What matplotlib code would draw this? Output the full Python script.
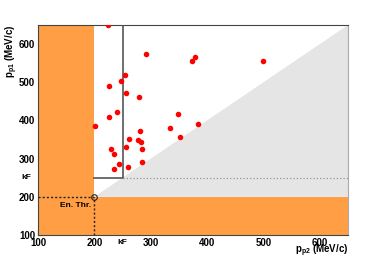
import matplotlib
matplotlib.use("Agg")
import matplotlib.pyplot as plt
from matplotlib.ticker import MultipleLocator

plt.rcParams['font.family'] = ['Liberation Sans', 'DejaVu Sans']

# data
p_p2 = [224, 291, 374, 379, 500, 255, 247, 226, 256, 279,
        240, 226, 202, 349, 384, 335, 352, 281, 262, 277,
        282, 256, 284, 229, 235, 285, 243, 234, 260]
p_p1 = [649, 573, 555, 565, 555, 518, 503, 490, 471, 461,
        421, 408, 386, 416, 392, 379, 357, 373, 351, 348,
        343, 331, 325, 325, 312, 292, 285, 272, 277]
kF = 250
en_thr = 200
xlim = (100, 650)
ylim = (100, 650)
xticks = [100, 200, 300, 400, 500, 600]
yticks = [100, 200, 300, 400, 500, 600]

fig = plt.figure(figsize=(3.86, 2.62), dpi=100)
ax = fig.add_axes([38/386, 1-235/262, 310/386, 210/262])
ax.set_xlim(*xlim)
ax.set_ylim(*ylim)

orange = '#ff9e45'
gray = '#e5e5e5'
# grey region below the diagonal
ax.fill([en_thr, xlim[1], xlim[1]], [en_thr, ylim[1], en_thr], color=gray, lw=0, zorder=1)
# orange threshold regions
ax.fill_between([xlim[0], en_thr], ylim[0], ylim[1], color=orange, lw=0, zorder=2)
ax.fill_between([xlim[0], xlim[1]], ylim[0], en_thr, color=orange, lw=0, zorder=2)

# kF box
ax.plot([en_thr, kF, kF], [kF, kF, ylim[1]], color='#555555', lw=1.2, zorder=3)
ax.plot([kF, xlim[1]], [kF, kF], color='#888888', lw=0.8, ls=(0, (1, 2)), zorder=3)

# energy threshold dotted lines
ax.plot([xlim[0], en_thr], [en_thr, en_thr], color='#222222', lw=1.0, ls=(0, (1.5, 1.5)), zorder=4)
ax.plot([en_thr, en_thr], [ylim[0], en_thr], color='#222222', lw=1.0, ls=(0, (1.5, 1.5)), zorder=4)
ax.plot([en_thr], [en_thr], marker='o', ms=4, mfc='none', mec='#222222', mew=0.8, ls='none', zorder=4)
ax.text(en_thr - 5, en_thr - 22, 'En. Thr.', fontsize=6, fontweight='bold', ha='right', va='center', zorder=5)

# data points
ax.scatter(p_p2, p_p1, s=16, color='#ff0000', zorder=6, linewidths=0)

ax.set_xticks(xticks)
ax.set_yticks(yticks)
ax.xaxis.set_minor_locator(MultipleLocator(20))
ax.yaxis.set_minor_locator(MultipleLocator(20))
ax.tick_params(which='both', direction='in', labelsize=7, pad=2)
ax.tick_params(which='major', length=4)
ax.tick_params(which='minor', length=2)
ax.tick_params(top=False, right=False)
for lab in ax.get_xticklabels() + ax.get_yticklabels():
    lab.set_fontweight('bold')

for s in ['top', 'left', 'bottom']:
    ax.spines[s].set_color('#444444')
    ax.spines[s].set_linewidth(0.8)
ax.spines['right'].set_color('#aaaaaa')
ax.spines['right'].set_linestyle((0, (1, 1)))
ax.spines['right'].set_linewidth(0.8)

# kF labels
ax.text(kF, ylim[0] - 10, 'kF', fontsize=6, fontweight='bold', ha='center', va='top')
ax.text(xlim[0] - 12, kF, 'kF', fontsize=6, fontweight='bold', ha='right', va='center')

ax.set_xlabel(r'p$_{\mathregular{p2}}$ (MeV/c)', fontsize=7, fontweight='bold', loc='right')
ax.xaxis.set_label_coords(1.0, -0.035)
ax.set_ylabel(r'p$_{\mathregular{p1}}$ (MeV/c)', fontsize=7, fontweight='bold', loc='top')
ax.yaxis.set_label_coords(-0.058, 1.0)

fig.savefig('out.png', dpi=100)
